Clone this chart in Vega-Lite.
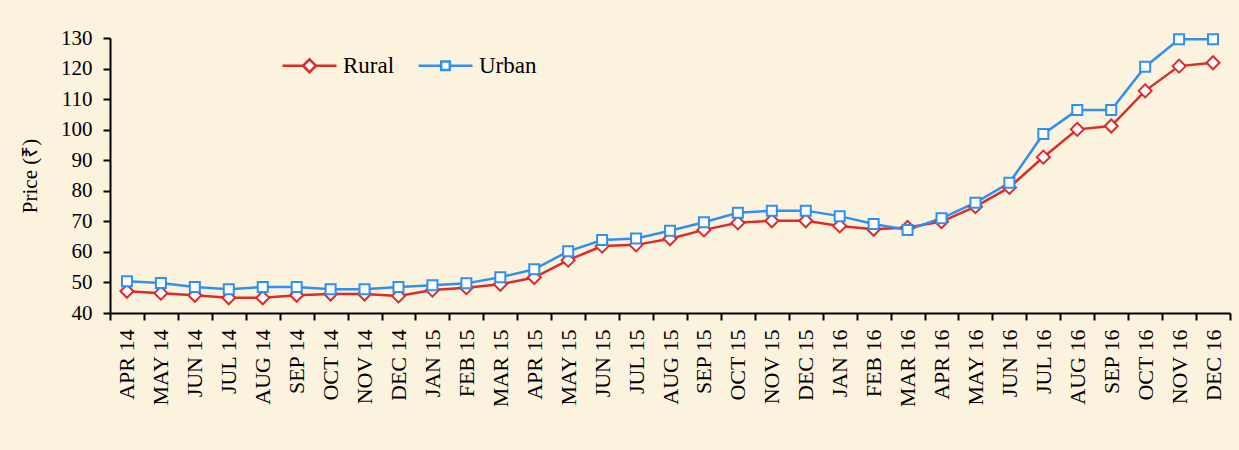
{
  "$schema": "https://vega.github.io/schema/vega-lite/v6.json",
  "width": 1120,
  "height": 275,
  "autosize": {"type": "none"},
  "padding": {"left": 110, "top": 38, "right": 9, "bottom": 137},
  "background": "#FCF3DF",
  "config": {
    "view": {"stroke": null},
    "font": "Liberation Serif",
    "axis": {
      "labelFont": "Liberation Serif",
      "labelFontSize": 21,
      "labelColor": "black",
      "domainColor": "black",
      "domainWidth": 2,
      "tickColor": "black",
      "tickWidth": 2,
      "tickSize": 7,
      "grid": false,
      "titleFont": "Liberation Serif",
      "titleFontSize": 21,
      "titleFontWeight": "normal",
      "titleColor": "black"
    }
  },
  "data": {
    "values": [
      {"m": "APR 14", "s": "Rural", "p": 47.1}, {"m": "MAY 14", "s": "Rural", "p": 46.5}, {"m": "JUN 14", "s": "Rural", "p": 45.8},
      {"m": "JUL 14", "s": "Rural", "p": 45.0}, {"m": "AUG 14", "s": "Rural", "p": 45.0}, {"m": "SEP 14", "s": "Rural", "p": 45.8},
      {"m": "OCT 14", "s": "Rural", "p": 46.2}, {"m": "NOV 14", "s": "Rural", "p": 46.2}, {"m": "DEC 14", "s": "Rural", "p": 45.6},
      {"m": "JAN 15", "s": "Rural", "p": 47.5}, {"m": "FEB 15", "s": "Rural", "p": 48.3}, {"m": "MAR 15", "s": "Rural", "p": 49.4},
      {"m": "APR 15", "s": "Rural", "p": 51.6}, {"m": "MAY 15", "s": "Rural", "p": 57.3}, {"m": "JUN 15", "s": "Rural", "p": 61.9},
      {"m": "JUL 15", "s": "Rural", "p": 62.3}, {"m": "AUG 15", "s": "Rural", "p": 64.3}, {"m": "SEP 15", "s": "Rural", "p": 67.2},
      {"m": "OCT 15", "s": "Rural", "p": 69.5}, {"m": "NOV 15", "s": "Rural", "p": 70.2}, {"m": "DEC 15", "s": "Rural", "p": 70.2},
      {"m": "JAN 16", "s": "Rural", "p": 68.5}, {"m": "FEB 16", "s": "Rural", "p": 67.4}, {"m": "MAR 16", "s": "Rural", "p": 68.0},
      {"m": "APR 16", "s": "Rural", "p": 69.9}, {"m": "MAY 16", "s": "Rural", "p": 74.8}, {"m": "JUN 16", "s": "Rural", "p": 81.1},
      {"m": "JUL 16", "s": "Rural", "p": 91.0}, {"m": "AUG 16", "s": "Rural", "p": 100.1}, {"m": "SEP 16", "s": "Rural", "p": 101.2},
      {"m": "OCT 16", "s": "Rural", "p": 112.7}, {"m": "NOV 16", "s": "Rural", "p": 120.8}, {"m": "DEC 16", "s": "Rural", "p": 121.9},
      {"m": "APR 14", "s": "Urban", "p": 50.4}, {"m": "MAY 14", "s": "Urban", "p": 49.8}, {"m": "JUN 14", "s": "Urban", "p": 48.5},
      {"m": "JUL 14", "s": "Urban", "p": 47.8}, {"m": "AUG 14", "s": "Urban", "p": 48.5}, {"m": "SEP 14", "s": "Urban", "p": 48.5},
      {"m": "OCT 14", "s": "Urban", "p": 47.8}, {"m": "NOV 14", "s": "Urban", "p": 47.8}, {"m": "DEC 14", "s": "Urban", "p": 48.5},
      {"m": "JAN 15", "s": "Urban", "p": 49.1}, {"m": "FEB 15", "s": "Urban", "p": 49.7}, {"m": "MAR 15", "s": "Urban", "p": 51.7},
      {"m": "APR 15", "s": "Urban", "p": 54.3}, {"m": "MAY 15", "s": "Urban", "p": 60.2}, {"m": "JUN 15", "s": "Urban", "p": 63.9},
      {"m": "JUL 15", "s": "Urban", "p": 64.4}, {"m": "AUG 15", "s": "Urban", "p": 66.9}, {"m": "SEP 15", "s": "Urban", "p": 69.7},
      {"m": "OCT 15", "s": "Urban", "p": 72.8}, {"m": "NOV 15", "s": "Urban", "p": 73.5}, {"m": "DEC 15", "s": "Urban", "p": 73.5},
      {"m": "JAN 16", "s": "Urban", "p": 71.7}, {"m": "FEB 16", "s": "Urban", "p": 69.1}, {"m": "MAR 16", "s": "Urban", "p": 67.2},
      {"m": "APR 16", "s": "Urban", "p": 71.0}, {"m": "MAY 16", "s": "Urban", "p": 76.1}, {"m": "JUN 16", "s": "Urban", "p": 82.6},
      {"m": "JUL 16", "s": "Urban", "p": 98.6}, {"m": "AUG 16", "s": "Urban", "p": 106.4}, {"m": "SEP 16", "s": "Urban", "p": 106.4},
      {"m": "OCT 16", "s": "Urban", "p": 120.6}, {"m": "NOV 16", "s": "Urban", "p": 129.6}, {"m": "DEC 16", "s": "Urban", "p": 129.6}
    ]
  },
  "encoding": {
    "x": {
      "field": "m",
      "type": "nominal",
      "sort": null,
      "title": null,
      "scale": {"paddingInner": 0, "paddingOuter": 0},
      "axis": {"labelAngle": 270, "labelPadding": 9, "labelFontSize": 22, "tickBand": "extent", "labelBaseline": "middle", "labelAlign": "right"}
    },
    "y": {
      "field": "p",
      "type": "quantitative",
      "title": "Price (₹)",
      "scale": {"domain": [40, 130], "nice": false, "zero": false},
      "axis": {"values": [40, 50, 60, 70, 80, 90, 100, 110, 120, 130], "labelPadding": 11, "titlePadding": 20}
    }
  },
  "layer": [
    {
      "mark": {"type": "line", "strokeWidth": 2.5},
      "encoding": {
        "color": {
          "field": "s",
          "type": "nominal",
          "scale": {"domain": ["Rural", "Urban"], "range": ["#DD2A2A", "#3090F0"]},
          "legend": {
            "title": null,
            "orient": "none",
            "legendX": 171,
            "legendY": -1,
            "direction": "horizontal",
            "symbolSize": 2916,
            "symbolStrokeWidth": 2.5,
            "labelFont": "Liberation Serif",
            "labelFontSize": 23,
            "labelColor": "black",
            "labelOffset": 5,
            "columnPadding": 18,
            "encode": {
              "symbols": {
                "update": {
                  "shape": {"signal": "datum.value === 'Rural' ? 'M-1,0L-0.24,0M0.24,0L1,0M0,-0.24L0.24,0L0,0.24L-0.24,0Z' : 'M-1,0L-0.16,0M0.16,0L1,0M-0.16,-0.16L0.16,-0.16L0.16,0.16L-0.16,0.16Z'"},
                  "fill": {"value": "white"},
                  "opacity": {"value": 1}
                }
              }
            }
          }
        }
      }
    },
    {
      "transform": [{"filter": "datum.s === 'Rural'"}],
      "mark": {"type": "point", "shape": "diamond", "size": 170, "filled": false, "fill": "white", "stroke": "#DD2A2A", "strokeWidth": 2, "opacity": 1}
    },
    {
      "transform": [{"filter": "datum.s === 'Urban'"}],
      "mark": {"type": "point", "shape": "square", "size": 100, "filled": false, "fill": "white", "stroke": "#3090F0", "strokeWidth": 2, "opacity": 1}
    }
  ]
}
